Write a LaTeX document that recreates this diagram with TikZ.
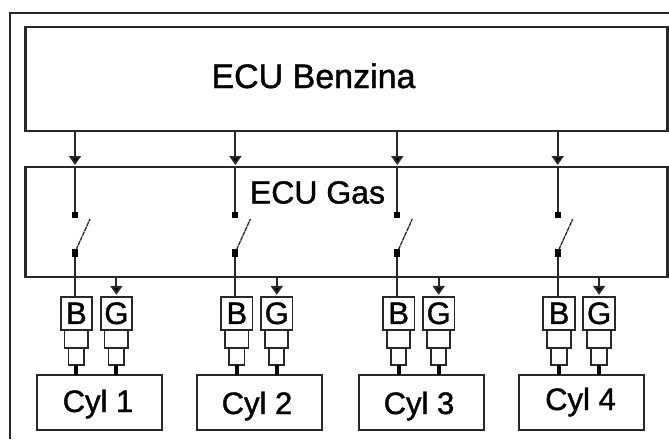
\documentclass[tikz,border=0pt]{standalone}
\usepackage{fontspec}
\setmainfont[FakeBold=1.2]{Liberation Sans}
\usetikzlibrary{arrows.meta}
\definecolor{ink}{HTML}{282828}
\tikzset{
  x=1pt,y=-1pt,
  every node/.style={inner sep=0pt,outer sep=0pt},
  wire/.style={draw=ink,line width=2pt},
  arrowwire/.style={wire,shorten >=2pt,-{Triangle[length=9pt,width=12pt,fill=black]}},
  ecubox/.style={draw=ink,line width=2.2pt,minimum width=642pt},
  cylbox/.style={draw=ink,line width=2pt,minimum width=125pt,minimum height=55pt},
  valve/.style={draw=ink,line width=1.8pt,minimum width=31.5pt,minimum height=33pt,font=\fontsize{31}{31}\selectfont},
  plugup/.style={draw=ink,line width=1.8pt,minimum width=23.5pt,minimum height=18pt},
  pluglow/.style={draw=ink,line width=1.8pt,minimum width=15.5pt,minimum height=17pt},
  stem/.style={draw=black,line width=4pt},
  contact/.style={fill=black,minimum width=6pt,minimum height=6pt},
  contactlow/.style={fill=black,minimum width=6pt,minimum height=7.5pt},
  arm/.style={draw=ink,line width=1.3pt,dash pattern=on 4.5pt off 0.7pt},
  cyltext/.style={font=\fontsize{31}{31}\selectfont,text height=22pt,text depth=0pt,anchor=center},
}
\begin{document}
\begin{tikzpicture}
\useasboundingbox (0,0) rectangle (669,439);
\fill[white] (0,0) rectangle (669,439);
\coordinate (frameTL) at (10,13);
\coordinate (frameBL) at (10,439);
\coordinate (frameTR) at (669,13);
\draw[draw=ink,line width=2.4pt] (frameBL) -- (frameTL) -- (frameTR);

\node[ecubox,minimum height=104pt] (ben) at (346.4,79) {};
\node[font=\fontsize{34}{34}\selectfont,text height=24pt,text depth=0pt] (bentxt) at (313.5,76) {ECU Benzina};
\node[ecubox,minimum height=110pt] (gas) at (346.4,222) {};
\node[font=\fontsize{32}{32}\selectfont,text height=23pt,text depth=0pt] (gastxt) at (317.5,192) {ECU Gas};

\foreach \i/\x/\cx/\tx/\ty in {1/75/99.2/98/401,2/235.4/259.5/257/403,3/397.3/421.5/419/403,4/557.7/581.5/580.5/399}{
  \node[contact] (up\i) at (\x,215.3) {};
  \node[contactlow] (lo\i) at (\x,253) {};
  \coordinate (armend\i) at (\x+15,219);
  \coordinate (armstart\i) at (\x+1,250);
  \node[valve] (b\i) at (\x+1.4,313.3) {B};
  \node[valve] (g\i) at (\x+41.4,313.3) {G};
  \node[plugup] (bu\i) at (\x+1.3,339) {};
  \node[plugup] (gu\i) at (\x+41.2,339) {};
  \node[pluglow] (bl\i) at (\x+1.3,356.5) {};
  \node[pluglow] (gl\i) at (\x+41.2,356.5) {};
  \node[cylbox] (c\i) at (\cx,402.5) {};
  \node[cyltext] (ct\i) at (\tx,\ty) {Cyl \i};
  \draw[arrowwire] (ben.south -| up\i) -- (gas.north -| up\i);
  \draw[wire] (gas.north -| up\i) -- (up\i);
  \draw[arm] (armstart\i) -- (armend\i);
  \draw[wire] (lo\i) -- (b\i.north -| lo\i);
  \draw[arrowwire] (gas.south -| g\i) -- (g\i.north);
  \draw[stem] (bl\i.south) -- (bl\i.south |- c\i.north);
  \draw[stem] (gl\i.south) -- (gl\i.south |- c\i.north);
}
\end{tikzpicture}
\end{document}
